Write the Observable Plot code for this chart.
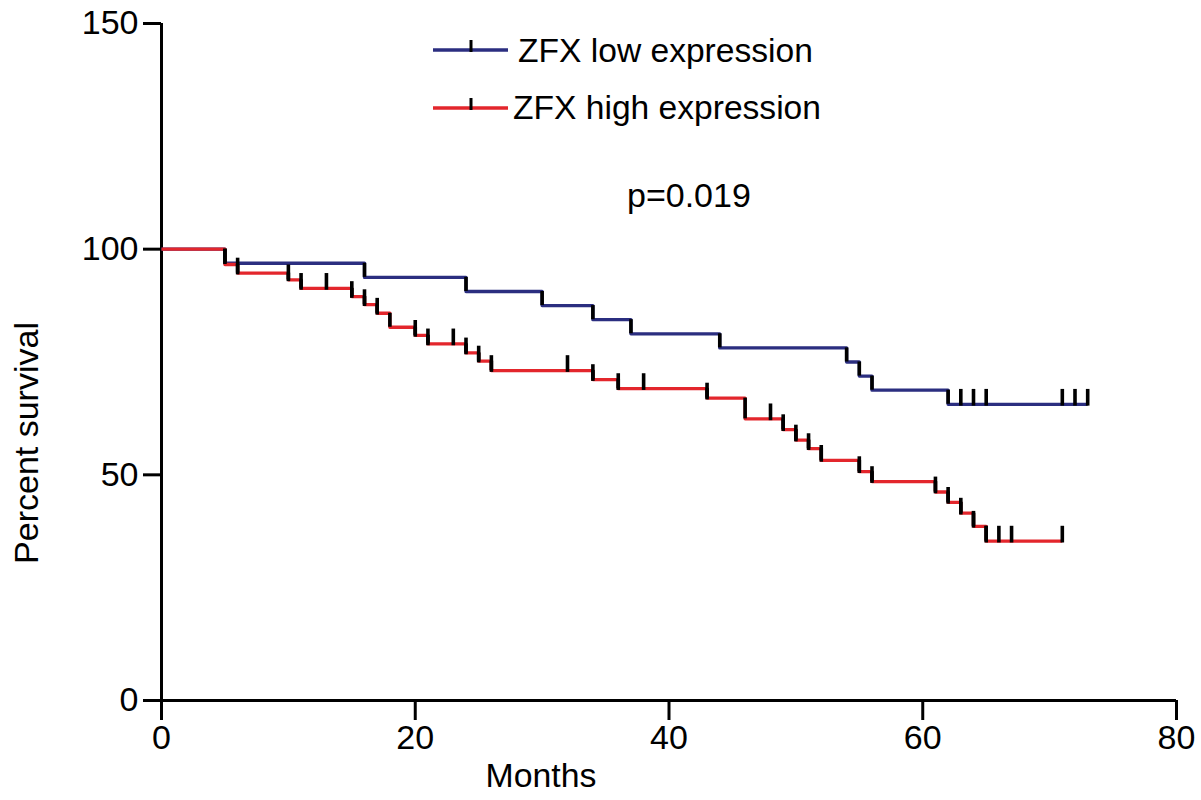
<!DOCTYPE html>
<html>
<head>
<meta charset="utf-8">
<script src="https://cdn.jsdelivr.net/npm/d3@7"></script>
<script src="https://cdn.jsdelivr.net/npm/@observablehq/plot@0.6"></script>
<style>
  html, body { margin: 0; padding: 0; background: #fff; }
  #wrap { position: relative; width: 1201px; height: 800px; }
  #overlay { position: absolute; left: 0; top: 0; pointer-events: none; }
  text { font-family: "Liberation Sans", Arial, Helvetica, sans-serif; }
</style>
</head>
<body>
<div id="wrap"></div>
<script>
// ---- data ----
const xTicks = [0, 20, 40, 60, 80];
const yTicks = [0, 50, 100, 150];

const lowName = "ZFX low expression";
const lowTimes = [0, 5, 16, 24, 30, 34, 37, 44, 54, 55, 56, 62, 73];
const lowSurv  = [100, 96.875, 93.75, 90.625, 87.5, 84.375, 81.25, 78.125, 75, 71.875, 68.75, 65.625, 65.625];
const lowCensored = [63, 64, 65, 71, 72, 73];

const highName = "ZFX high expression";
const highTimes = [0, 5, 6, 10, 11, 15, 16, 17, 18, 20, 21, 24, 25, 26, 34, 36, 43, 46, 49, 50, 51, 52, 55, 56, 61, 62, 63, 64, 65, 71];
const highSurv  = [100, 96.6, 94.7, 93.2, 91.3, 89.5, 87.7, 85.8, 82.7, 80.9, 79.0, 77.0, 75.2, 73.1, 71.1, 69.1, 67.0, 62.4, 60.0, 57.7, 55.8, 53.2, 50.7, 48.5, 46.2, 43.9, 41.5, 38.6, 35.3, 35.3];
const highCensored = [6, 10, 11, 13, 15, 16, 17, 20, 21, 23, 24, 25, 26, 32, 34, 36, 38, 43, 48, 49, 50, 51, 52, 55, 56, 61, 62, 63, 64, 65, 66, 67, 71];

const pValue = "p=0.019";

const blue = "#2b2e80";
const red = "#e3262c";

// ---- derived tables ----
function steps(times, surv) { return times.map((t, i) => ({t, s: surv[i]})); }
function drops(times, surv) {
  const out = [];
  for (let i = 1; i < times.length; i++) if (surv[i] !== surv[i-1]) out.push({t: times[i], from: surv[i-1], to: surv[i]});
  return out;
}
function censorPts(times, surv, cens) {
  return cens.map(c => {
    let s = surv[0];
    for (let i = 0; i < times.length; i++) if (times[i] <= c) s = surv[i];
    return {t: c, s};
  });
}
const lowSteps = steps(lowTimes, lowSurv), highSteps = steps(highTimes, highSurv);
const allDrops = drops(lowTimes, lowSurv).concat(drops(highTimes, highSurv));
const allCens = censorPts(lowTimes, lowSurv, lowCensored).concat(censorPts(highTimes, highSurv, highCensored));

const chart = Plot.plot({
  width: 1201, height: 800,
  marginLeft: 161, marginRight: 25, marginTop: 23, marginBottom: 100,
  x: {domain: [0, 80]},
  y: {domain: [0, 150]},
  style: {fontFamily: '"Liberation Sans", Arial, sans-serif', fontSize: "34px", color: "black", background: "white"},
  marks: [
    Plot.axisX({ticks: xTicks, tickSize: 20, tickPadding: 4, strokeWidth: 3, fontSize: 34, label: null, stroke: "black"}),
    Plot.axisY({ticks: yTicks, tickSize: 18, tickPadding: 5, strokeWidth: 3, fontSize: 34, label: null, stroke: "black"}),
    Plot.ruleY([0], {stroke: "black", strokeWidth: 3}),
    Plot.ruleX([0], {stroke: "black", strokeWidth: 3}),
    Plot.line(lowSteps, {x: "t", y: "s", curve: "step-after", stroke: blue, strokeWidth: 3.3, strokeLinecap: "butt"}),
    Plot.line(highSteps, {x: "t", y: "s", curve: "step-after", stroke: red, strokeWidth: 3.3, strokeLinecap: "butt"}),
    Plot.ruleX(allDrops, {x: "t", y1: "from", y2: "to", stroke: "black", strokeWidth: 3.6}),
    Plot.ruleX(allCens, {x: "t", y1: d => d.s - 0.4, y2: d => d.s + 3.3, stroke: "black", strokeWidth: 3.6})
  ]
});
const wrap = document.getElementById("wrap");
wrap.appendChild(chart);

// ---- annotations overlay (legend, p-value, axis titles) ----
const ns = "http://www.w3.org/2000/svg";
const ov = document.createElementNS(ns, "svg");
ov.setAttribute("id", "overlay");
ov.setAttribute("width", 1201); ov.setAttribute("height", 800);
function el(tag, attrs, txt) {
  const e = document.createElementNS(ns, tag);
  for (const k in attrs) e.setAttribute(k, attrs[k]);
  if (txt) e.textContent = txt;
  ov.appendChild(e); return e;
}
// legend
el("line", {x1: 433, x2: 508, y1: 50, y2: 50, stroke: blue, "stroke-width": 3.3});
el("line", {x1: 471, x2: 471, y1: 40, y2: 52, stroke: "black", "stroke-width": 3});
el("text", {x: 518, y: 62, "font-size": 33.6, fill: "black"}, lowName);
el("line", {x1: 433, x2: 508, y1: 108, y2: 108, stroke: red, "stroke-width": 3.3});
el("line", {x1: 471, x2: 471, y1: 98, y2: 110, stroke: "black", "stroke-width": 3});
el("text", {x: 513, y: 119, "font-size": 33.6, fill: "black"}, highName);
// p value
el("text", {x: 627, y: 207, "font-size": 34, fill: "black"}, pValue);
// axis titles
el("text", {x: 541, y: 787, "font-size": 33.8, "text-anchor": "middle", fill: "black"}, "Months");
el("text", {transform: "translate(38,443) rotate(-90)", "font-size": 34, "text-anchor": "middle", fill: "black"}, "Percent survival");
wrap.appendChild(ov);
</script>
</body>
</html>
